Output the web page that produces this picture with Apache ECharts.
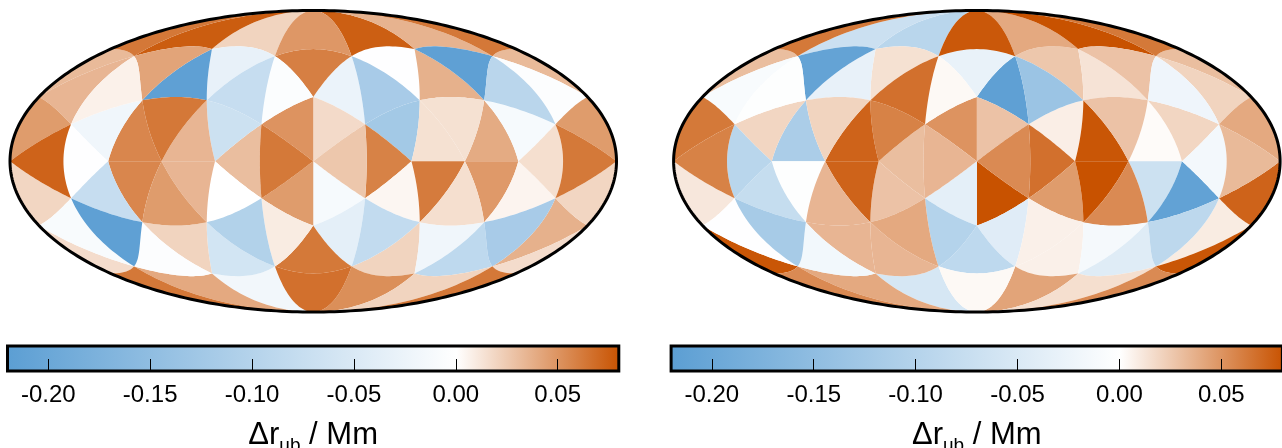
<!DOCTYPE html>
<html><head><meta charset="utf-8"><style>html,body{margin:0;padding:0;background:#fff;overflow:hidden}#c{width:1282px;height:448px}</style>
<script src="https://cdn.jsdelivr.net/npm/echarts@6/dist/echarts.min.js"></script></head><body><div id="c"></div><script>
// One value per triangular cell (icosahedral grid, 80 cells), in cell order.
const leftValues=[-.002,-.123,-.027,-.117,.036,.014,.039,.014,.074,.059,
.02,.048,.035,.075,.032,.0625,-.215,-.012,-.004,-.093,
.058,.017,-.012,.026,.004,.02,-.036,-.082,.061,-.02,
.047,.015,.05,.03,.046,.062,-.005,-.068,-.031,-.076,
.052,.062,-.018,.066,-.087,.005,.036,-.117,.02,.04,
.016,.0625,0,.009,-.06,-.103,.034,-.215,.056,.0625,
.034,.02,.056,.046,.042,.034,-.02,.0065,.015,.046,
.019,.062,.046,-.002,.019,.072,-.004,-.076,-.01,-.215];
const rightValues=[.026,.008,-.215,-.134,.013,.078,.002,.028,.04,-.03,
-.094,.077,.08,-.07,.03,.062,.028,.019,.02,-.022,
.066,.028,.08,.054,.046,.007,-.042,.007,.08,-.013,
-.068,.054,.05,.03,-.036,.034,.003,.058,.014,.066,
.042,-.087,-.055,.003,-.043,-.21,.009,-.088,.015,.04,
.078,.054,.028,-.1,.034,.04,.072,-.031,-.113,.02,
.072,.034,-.003,.034,-.208,-.01,.019,-.003,-.016,.04,
.072,.032,.062,-.094,.011,.058,-.017,-.078,-.002,-.118];
const colorbarTicks=[-0.20,-0.15,-0.10,-0.05,0.00,0.05];
const colorMin=-0.22,colorMax=0.08;
const colorLow=[91,158,211],colorMid=[255,255,255],colorHigh=[200,82,0];
const FONT='"Liberation Sans",Arial,Helvetica,sans-serif';

function colorOf(v){const t=v<0?Math.min(1,v/colorMin):Math.min(1,v/colorMax),e=v<0?colorLow:colorHigh;
 return 'rgb('+colorMid.map((m,i)=>Math.round(m+(e[i]-m)*t)).join(',')+')';}
const PHI=(1+Math.sqrt(5))/2;
function icosaVerts(){const v=[];for(const a of [1,-1])for(const b of [1,-1]){v.push([0,a,b*PHI]);v.push([a,b*PHI,0]);v.push([a*PHI,0,b]);}return v;}
function norm(p){const l=Math.hypot(p[0],p[1],p[2]);return p.map(c=>c/l);}
function buildTris(){const v=icosaVerts(),n=v.length,d=(a,b)=>Math.hypot(a[0]-b[0],a[1]-b[1],a[2]-b[2]),T=[];
 const adj=(a,b)=>Math.abs(d(a,b)-2)<1e-6;
 for(let i=0;i<n;i++)for(let j=i+1;j<n;j++)for(let k=j+1;k<n;k++)if(adj(v[i],v[j])&&adj(v[j],v[k])&&adj(v[i],v[k])){
  const A=norm(v[i]),B=norm(v[j]),C=norm(v[k]);const m=(p,q)=>norm([p[0]+q[0],p[1]+q[1],p[2]+q[2]]);
  const AB=m(A,B),BC=m(B,C),CA=m(C,A);T.push([A,AB,CA],[B,BC,AB],[C,CA,BC],[AB,BC,CA]);}
 return T;}
function edgePts(a,b,n){const o=[];for(let i=0;i<n;i++){const t=i/n;o.push(norm([a[0]*(1-t)+b[0]*t,a[1]*(1-t)+b[1]*t,a[2]*(1-t)+b[2]*t]));}return o;}
function clipY(poly,sign){const o=[];for(let i=0;i<poly.length;i++){const p=poly[i],q=poly[(i+1)%poly.length],a=p[1]*sign,b=q[1]*sign;
  if(a>=-1e-12)o.push(p);
  if((a>1e-12&&b<-1e-12)||(a<-1e-12&&b>1e-12)){const t=a/(a-b);o.push(norm([p[0]+(q[0]-p[0])*t,0,p[2]+(q[2]-p[2])*t]));}}
 const out=[];for(let i=0;i<o.length;i++){const p=o[i],q=o[(i+1)%o.length],ang=Math.acos(Math.min(1,p[0]*q[0]+p[1]*q[1]+p[2]*q[2]));
  const n=Math.max(1,Math.ceil(ang/0.04));out.push(...edgePts(p,q,n));}
 return out;}
function moll(p,sign){const lat=Math.asin(Math.max(-1,Math.min(1,p[2])));let lon=Math.atan2(p[1],p[0]);
 if(Math.abs(p[1])<1e-9&&p[0]<0)lon=sign*Math.PI;
 let lo=-Math.PI/2,hi=Math.PI/2;const tgt=Math.PI*Math.sin(lat);for(let i=0;i<60;i++){const m=(lo+hi)/2;if(2*m+Math.sin(2*m)<tgt)lo=m;else hi=m;}
 const th=(lo+hi)/2;return [2*Math.SQRT2/Math.PI*lon*Math.cos(th),Math.SQRT2*Math.sin(th)];}
function triPieces(tri){const poly=[...edgePts(tri[0],tri[1],24),...edgePts(tri[1],tri[2],24),...edgePts(tri[2],tri[0],24)];
 const ys=poly.map(p=>p[1]),back=tri.some(p=>p[0]<-1e-9)&&!tri.some(p=>p[0]>0.05);
 if(Math.max(...ys)>1e-9&&Math.min(...ys)<-1e-9&&back)return [clipY(poly,1).map(p=>moll(p,1)),clipY(poly,-1).map(p=>moll(p,-1))];
 const s=ys.reduce((a,b)=>a+b,0)>=0?1:-1;return [poly.map(p=>moll(p,s))];}
const tris=buildTris();
const XM=2*Math.SQRT2,YM=Math.SQRT2;

function mapSeries(i,values){return {type:'custom',coordinateSystem:'cartesian2d',xAxisIndex:i,yAxisIndex:i,clip:false,silent:true,z:2,
 data:values.map(v=>[0,0,v]),
 renderItem(params,api){const v=api.value(2);
  return {type:'group',children:triPieces(tris[params.dataIndex]).map(pc=>({type:'polygon',shape:{points:pc.map(q=>api.coord(q))},style:{fill:colorOf(v)}}))};}};}
function outlineSeries(i){return {type:'custom',coordinateSystem:'cartesian2d',xAxisIndex:i,yAxisIndex:i,clip:false,silent:true,z:3,
 data:[[0,0]],
 renderItem(params,api){const pts=[];for(let a=0;a<360;a++){const t=a*Math.PI/180;pts.push(api.coord([XM*Math.cos(t),YM*Math.sin(t)]));}
  return {type:'polygon',shape:{points:pts},style:{fill:'none',stroke:'#000',lineWidth:3}};}};}
function barSeries(i){return {type:'custom',coordinateSystem:'cartesian2d',xAxisIndex:i,yAxisIndex:i,clip:false,silent:true,z:2,
 data:[[colorMin,colorMax]],
 renderItem(params,api){const a=api.coord([api.value(0),0]),b=api.coord([api.value(1),1]);const w=(0-colorMin)/(colorMax-colorMin);
  return {type:'rect',shape:{x:a[0],y:b[1],width:b[0]-a[0],height:a[1]-b[1]},
   style:{fill:new echarts.graphic.LinearGradient(0,0,1,0,[{offset:0,color:colorOf(colorMin)},{offset:w,color:colorOf(0)},{offset:1,color:colorOf(colorMax)}]),stroke:'#000',lineWidth:3}};}};}
function barAxis(i){return {gridIndex:i,type:'value',min:colorMin,max:colorMax,z:5,position:'bottom',
 axisLine:{show:false},splitLine:{show:false},
 axisTick:{show:true,inside:true,length:12,customValues:colorbarTicks,lineStyle:{color:'#000',width:1}},
 axisLabel:{show:true,customValues:colorbarTicks,margin:12,fontFamily:FONT,fontSize:24,color:'#000',formatter:v=>v.toFixed(2)},
 name:'{a|Δr}{b|ub}{a| / Mm}',nameLocation:'middle',nameGap:47,
 nameTextStyle:{rich:{a:{fontFamily:FONT,fontSize:31,color:'#000',height:34,verticalAlign:'bottom',padding:[0,0,6,0]},b:{fontFamily:FONT,fontSize:19,color:'#000',verticalAlign:'bottom',height:24}}}};}

const G={outerBoundsMode:'none',containLabel:false};
const chart=echarts.init(document.getElementById('c'),null,{renderer:'canvas'});
chart.setOption({animation:false,
 grid:[{left:10,width:606.5,top:10.5,height:301.5,...G},{left:673.6,width:606.5,top:10.5,height:301.5,...G},
  {left:7.5,width:611.3,top:346,height:25,...G},{left:671.1,width:611.3,top:346,height:25,...G}],
 xAxis:[{gridIndex:0,type:'value',min:-XM,max:XM,show:false},{gridIndex:1,type:'value',min:-XM,max:XM,show:false},barAxis(2),barAxis(3)],
 yAxis:[{gridIndex:0,type:'value',min:-YM,max:YM,show:false},{gridIndex:1,type:'value',min:-YM,max:YM,show:false},
  {gridIndex:2,type:'value',min:0,max:1,show:false},{gridIndex:3,type:'value',min:0,max:1,show:false}],
 series:[mapSeries(0,leftValues),mapSeries(1,rightValues),outlineSeries(0),outlineSeries(1),barSeries(2),barSeries(3)]});
</script></body></html>
